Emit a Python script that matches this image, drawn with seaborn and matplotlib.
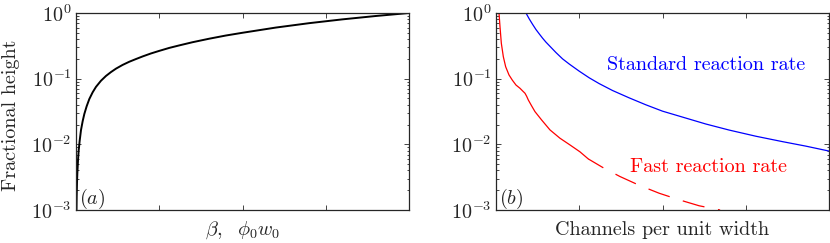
import matplotlib
matplotlib.use("Agg")
import matplotlib.pyplot as plt
import matplotlib.ticker as mticker
import numpy as np
import pandas as pd
import seaborn as sns

# ---- data ----
beta_x = [0.0015, 0.002, 0.003, 0.004, 0.006, 0.008, 0.011, 0.015, 0.020, 0.025, 0.032,
          0.040, 0.050, 0.060, 0.075, 0.090, 0.105, 0.120, 0.140, 0.160, 0.180, 0.200,
          0.225, 0.250, 0.280, 0.310, 0.350, 0.400, 0.450, 0.500, 0.600, 0.700, 0.800,
          0.900, 1.0]
beta_y = [0.0010, 0.0016, 0.0026, 0.0036, 0.0057, 0.0080, 0.0113, 0.0165, 0.0225, 0.029, 0.038,
          0.049, 0.062, 0.075, 0.093, 0.110, 0.126, 0.142, 0.162, 0.181, 0.199, 0.218,
          0.242, 0.265, 0.294, 0.321, 0.359, 0.406, 0.454, 0.500, 0.600, 0.700, 0.800,
          0.900, 1.0]

std_x = [0.090, 0.095, 0.10, 0.11, 0.12, 0.13, 0.14, 0.15, 0.165, 0.18, 0.20, 0.22,
         0.25, 0.28, 0.31, 0.35, 0.40, 0.45, 0.50, 0.56, 0.63, 0.70, 0.78, 0.86, 0.93, 1.0]
std_y = [1.0, 0.90, 0.81, 0.67, 0.56, 0.48, 0.413, 0.36, 0.30, 0.25, 0.20, 0.167,
         0.13, 0.103, 0.084, 0.066, 0.051, 0.040, 0.032, 0.026, 0.0204, 0.0165, 0.0133,
         0.011, 0.0094, 0.0079]

fast_solid_x = [0.009, 0.012, 0.016, 0.022, 0.029, 0.039, 0.049, 0.060, 0.072, 0.080,
                0.087, 0.092, 0.097, 0.107, 0.117, 0.137, 0.162, 0.192, 0.222, 0.252, 0.277]
fast_solid_y = [1.0, 0.62, 0.346, 0.216, 0.152, 0.114, 0.095, 0.080, 0.0714, 0.065,
                0.060, 0.054, 0.0474, 0.0385, 0.0315, 0.0235, 0.0166, 0.0124, 0.0098,
                0.0077, 0.0060]
fast_dash_x = [0.277, 0.32, 0.372, 0.43, 0.49, 0.55, 0.61, 0.673]
fast_dash_y = [0.0060, 0.00446, 0.00324, 0.00238, 0.0018, 0.00143, 0.00116, 0.0010]

ytick_vals = [1e-3, 1e-2, 1e-1, 1e0]
ytick_labels = [r"$10^{-3}$", r"$10^{-2}$", r"$10^{-1}$", r"$10^{0}$"]
xtick_vals = [0.0, 0.25, 0.5, 0.75, 1.0]

# ---- style ----
sns.set_style("ticks")
plt.rcParams["font.family"] = ["cmr10", "DejaVu Serif"]
plt.rcParams["mathtext.fontset"] = "cm"
plt.rcParams["axes.formatter.use_mathtext"] = True
plt.rcParams["axes.unicode_minus"] = False

FS = 14.5
edge = "#262626"

fig = plt.figure(figsize=(8.3, 2.43), dpi=100)
W, H = 830, 243
axA = fig.add_axes([76 / W, (H - 210) / H, 333 / W, 197 / H])
axB = fig.add_axes([496 / W, (H - 210) / H, 333 / W, 197 / H])

dfA = pd.DataFrame({"x": beta_x, "y": beta_y})
sns.lineplot(data=dfA, x="x", y="y", ax=axA, color="black", linewidth=1.4,
             estimator=None, sort=False)

dfS = pd.DataFrame({"x": std_x, "y": std_y})
dfF1 = pd.DataFrame({"x": fast_solid_x, "y": fast_solid_y})
dfF2 = pd.DataFrame({"x": fast_dash_x, "y": fast_dash_y})
sns.lineplot(data=dfS, x="x", y="y", ax=axB, color="#0000ff", linewidth=0.9,
             estimator=None, sort=False)
sns.lineplot(data=dfF1, x="x", y="y", ax=axB, color="#ff0000", linewidth=0.9,
             estimator=None, sort=False)
sns.lineplot(data=dfF2, x="x", y="y", ax=axB, color="#ff0000", linewidth=0.9,
             estimator=None, sort=False, linestyle=(4, (18, 11)))

for ax in (axA, axB):
    ax.set_yscale("log")
    ax.set_xlim(0, 1)
    ax.set_ylim(1e-3, 1)
    ax.set_yticks(ytick_vals)
    ax.set_yticklabels(ytick_labels, fontsize=FS, color=edge)
    ax.yaxis.set_minor_locator(mticker.LogLocator(base=10, subs=np.arange(2, 10), numticks=20))
    ax.yaxis.set_minor_formatter(mticker.NullFormatter())
    ax.set_xticks(xtick_vals)
    ax.set_xticklabels([])
    ax.tick_params(which="both", direction="in", top=True, right=True, colors=edge,
                   width=0.6)
    ax.tick_params(which="major", length=3.5, pad=3)
    ax.tick_params(which="minor", length=1.8)
    for s in ax.spines.values():
        s.set_color(edge)
        s.set_linewidth(0.9)
        s.set_visible(True)
    ax.set_ylabel("")
    ax.set_xlabel("")

axA.set_ylabel("Fractional height", fontsize=FS, color=edge, va="center")
axA.yaxis.set_label_coords(-(76 - 11) / 333, 0.48)
axA.set_xlabel(r"$\beta,\ \ \phi_0 w_0$", fontsize=FS, color=edge, va="baseline")
axA.xaxis.set_label_coords(0.5, -(235 - 210) / 197)
axB.set_xlabel("Channels per unit width", fontsize=FS, color=edge, va="baseline")
axB.xaxis.set_label_coords(0.5, -(235 - 210) / 197)

axA.text(0.01, 0.055, r"$(a)$", transform=axA.transAxes, fontsize=FS,
         ha="left", va="center", color=edge)
axB.text(0.01, 0.055, r"$(b)$", transform=axB.transAxes, fontsize=FS,
         ha="left", va="center", color=edge)

axB.text(0.928, 0.736, "Standard reaction rate", transform=axB.transAxes, fontsize=FS,
         ha="right", va="center", color="#0000ff")
axB.text(0.874, 0.218, "Fast reaction rate", transform=axB.transAxes, fontsize=FS,
         ha="right", va="center", color="#ff0000")

fig.savefig("out.png", dpi=100)
